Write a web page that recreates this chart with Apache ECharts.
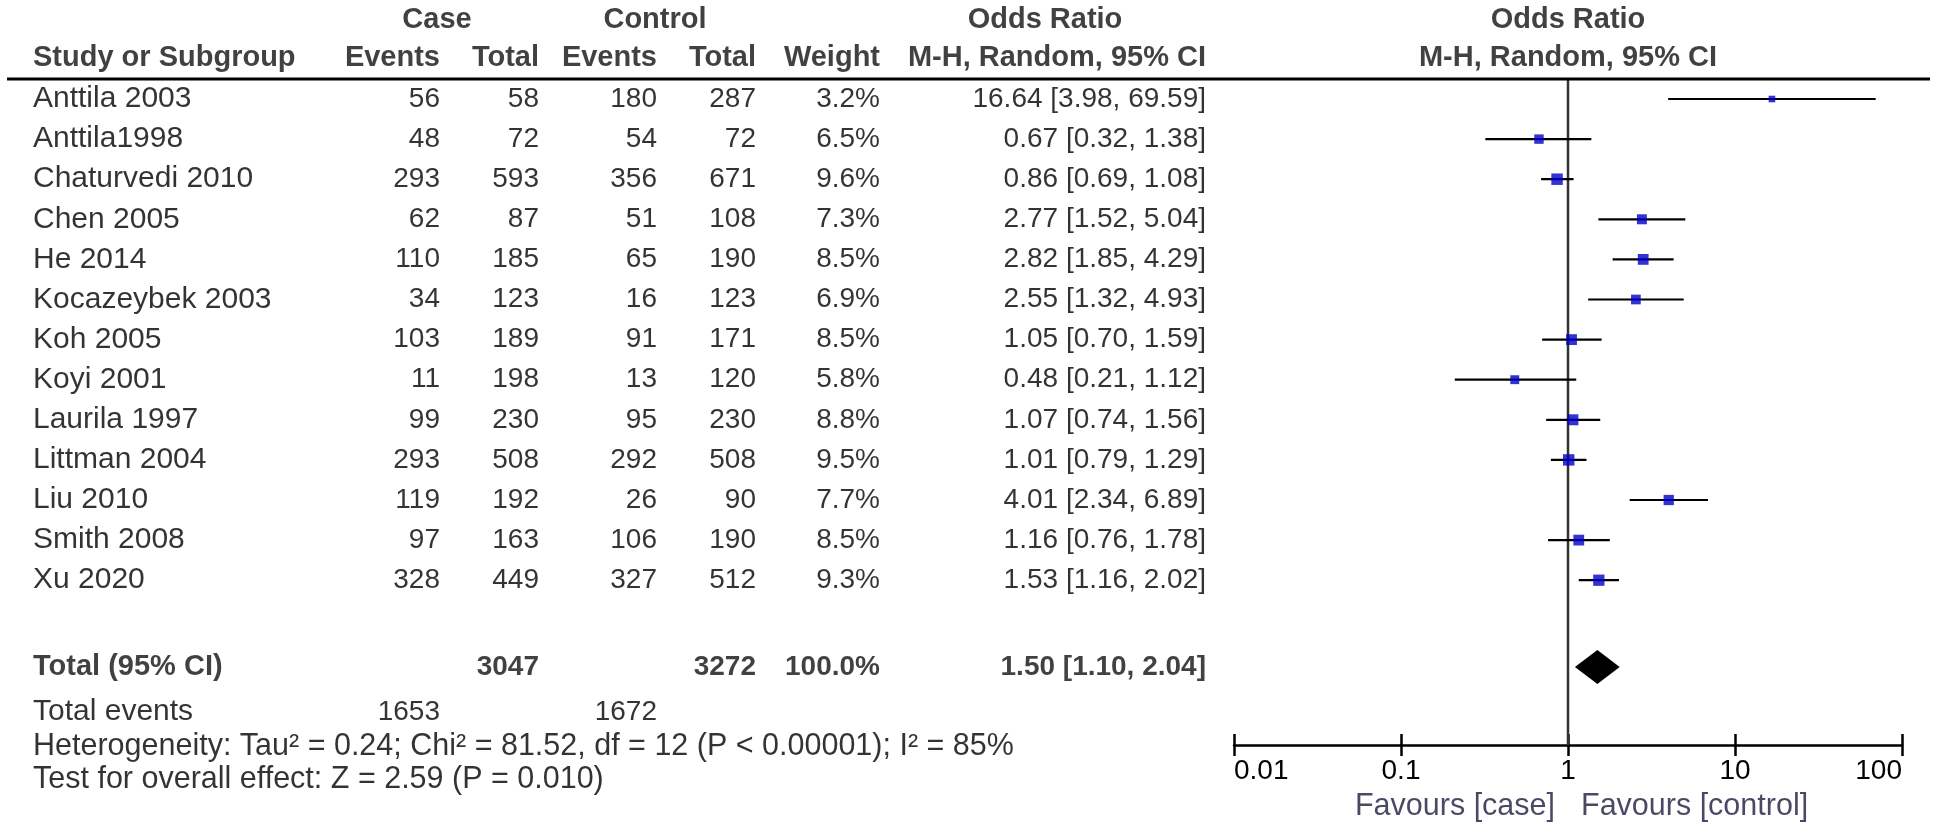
<!DOCTYPE html>
<html><head><meta charset="utf-8">
<script src="https://cdn.jsdelivr.net/npm/echarts@6/dist/echarts.min.js"></script>
<style>html,body{margin:0;padding:0;background:#fff}#c{width:1938px;height:829px}</style>
</head><body><div id="c"></div>
<script>
// ---------- data ----------
const studies = ['Anttila 2003','Anttila1998','Chaturvedi 2010','Chen 2005','He 2014','Kocazeybek 2003','Koh 2005','Koyi 2001','Laurila 1997','Littman 2004','Liu 2010','Smith 2008','Xu 2020'];
const caseEvents = [56,48,293,62,110,34,103,11,99,293,119,97,328];
const caseTotal  = [58,72,593,87,185,123,189,198,230,508,192,163,449];
const ctrlEvents = [180,54,356,51,65,16,91,13,95,292,26,106,327];
const ctrlTotal  = [287,72,671,108,190,123,171,120,230,508,90,190,512];
const weights    = [3.2,6.5,9.6,7.3,8.5,6.9,8.5,5.8,8.8,9.5,7.7,8.5,9.3];
const orEst  = [16.64,0.67,0.86,2.77,2.82,2.55,1.05,0.48,1.07,1.01,4.01,1.16,1.53];
const orLow  = [3.98,0.32,0.69,1.52,1.85,1.32,0.70,0.21,0.74,0.79,2.34,0.76,1.16];
const orHigh = [69.59,1.38,1.08,5.04,4.29,4.93,1.59,1.12,1.56,1.29,6.89,1.78,2.02];
const totalCase = 3047, totalCtrl = 3272, totalWeight = '100.0%';
const pooledEst = 1.50, pooledLow = 1.10, pooledHigh = 2.04;
const totalEventsCase = 1653, totalEventsCtrl = 1672;
const heterogeneityText = 'Heterogeneity: Tau² = 0.24; Chi² = 81.52, df = 12 (P < 0.00001); I² = 85%';
const overallText = 'Test for overall effect: Z = 2.59 (P = 0.010)';
const axisTicks = [0.01, 0.1, 1, 10, 100];
const tickLabels = ['0.01','0.1','1','10','100'];
const favourLeft = 'Favours [case]', favourRight = 'Favours [control]';

// ---------- layout ----------
const W = 1938, H = 829;
const ROW0 = 99, ROWH = 40.1;
const HEAD1_Y = 20, HEAD2_Y = 58, RULE_Y = 79, TOTAL_Y = 667, EVENTS_Y = 712, HET_Y = 747, TEST_Y = 780, FAV_Y = 807, AXIS_Y = 745;
const FL = 1234, FR = 1902;
const r = px => (px - ROW0) / ROWH;
const FONT = 'Liberation Sans, Arial, sans-serif';
const FS_TEXT = 30, FS_NOTE = 30.5, FS_NUM = 28, FS_HEAD = 29;
const COL = {name:33, ce:440, ct:539, ke:657, kt:756, w:880, or:1206};

const fmt = v => v.toFixed(2);
const texts = [];
function t(text, x, y, align, bold, size, color){
  texts.push({value:[x, y], label:{show:true, formatter: String(text), align: align, verticalAlign:'middle', position:'inside',
    fontWeight: bold ? 'bold' : 'normal', color: color || (bold ? '#111' : '#000'), fontSize: size, fontFamily: FONT}});
}
// headers
t('Case', 437, r(HEAD1_Y), 'center', true, FS_HEAD);
t('Control', 655, r(HEAD1_Y), 'center', true, FS_HEAD);
t('Odds Ratio', 1045, r(HEAD1_Y), 'center', true, FS_HEAD);
t('Odds Ratio', (FL+FR)/2, r(HEAD1_Y), 'center', true, FS_HEAD);
t('Study or Subgroup', COL.name, r(HEAD2_Y), 'left', true, FS_HEAD);
t('Events', COL.ce, r(HEAD2_Y), 'right', true, FS_HEAD);
t('Total', COL.ct, r(HEAD2_Y), 'right', true, FS_HEAD);
t('Events', COL.ke, r(HEAD2_Y), 'right', true, FS_HEAD);
t('Total', COL.kt, r(HEAD2_Y), 'right', true, FS_HEAD);
t('Weight', COL.w, r(HEAD2_Y), 'right', true, FS_HEAD);
t('M-H, Random, 95% CI', COL.or, r(HEAD2_Y), 'right', true, FS_HEAD);
t('M-H, Random, 95% CI', (FL+FR)/2, r(HEAD2_Y), 'center', true, FS_HEAD);
// study rows
studies.forEach((s, i) => {
  t(s, COL.name, i, 'left', false, FS_TEXT);
  t(caseEvents[i], COL.ce, i, 'right', false, FS_NUM);
  t(caseTotal[i], COL.ct, i, 'right', false, FS_NUM);
  t(ctrlEvents[i], COL.ke, i, 'right', false, FS_NUM);
  t(ctrlTotal[i], COL.kt, i, 'right', false, FS_NUM);
  t(weights[i].toFixed(1) + '%', COL.w, i, 'right', false, FS_NUM);
  t(fmt(orEst[i]) + ' [' + fmt(orLow[i]) + ', ' + fmt(orHigh[i]) + ']', COL.or, i, 'right', false, FS_NUM);
});
// totals
t('Total (95% CI)', COL.name, r(TOTAL_Y), 'left', true, FS_HEAD);
t(totalCase, COL.ct, r(TOTAL_Y), 'right', true, FS_NUM);
t(totalCtrl, COL.kt, r(TOTAL_Y), 'right', true, FS_NUM);
t(totalWeight, COL.w, r(TOTAL_Y), 'right', true, FS_NUM);
t(fmt(pooledEst) + ' [' + fmt(pooledLow) + ', ' + fmt(pooledHigh) + ']', COL.or, r(TOTAL_Y), 'right', true, FS_NUM);
t('Total events', COL.name, r(EVENTS_Y), 'left', false, FS_TEXT);
t(totalEventsCase, COL.ce, r(EVENTS_Y), 'right', false, FS_NUM);
t(totalEventsCtrl, COL.ke, r(EVENTS_Y), 'right', false, FS_NUM);
t(heterogeneityText, COL.name, r(HET_Y), 'left', false, FS_NOTE);
t(overallText, COL.name, r(TEST_Y), 'left', false, FS_NOTE);
t(favourLeft, 1555, r(FAV_Y), 'right', false, FS_NOTE, '#1c1c3c');
t(favourRight, 1581, r(FAV_Y), 'left', false, FS_NOTE, '#1c1c3c');

const pooledRow = r(TOTAL_Y);
const labelFor = v => { const k = axisTicks.findIndex(a => Math.abs(Math.log10(a) - Math.log10(v)) < 1e-6); return k >= 0 ? tickLabels[k] : ''; };

const chart = echarts.init(document.getElementById('c'), null, {renderer:'canvas'});
chart.setOption({
  animation: false,
  backgroundColor: '#fff',
  grid: [
    {left:0, top:0, width:W, height:H},
    {left:FL, top:0, width:FR-FL, height:AXIS_Y}
  ],
  xAxis: [
    {gridIndex:0, type:'value', min:0, max:W, show:false},
    {gridIndex:1, type:'log', logBase:10, min:axisTicks[0], max:axisTicks[axisTicks.length-1], interval:1, position:'bottom',
      axisLine:{show:true, onZero:false, lineStyle:{color:'#000', width:2.5}},
      axisTick:{show:true, inside:false, length:11, lineStyle:{color:'#000', width:2.5}},
      axisLabel:{show:true, margin:12, fontSize:28, fontFamily:FONT, color:'#000', formatter: labelFor, alignMinLabel:'left', alignMaxLabel:'right'},
      splitLine:{show:false}, minorTick:{show:false}},
    {gridIndex:1, type:'log', logBase:10, min:axisTicks[0], max:axisTicks[axisTicks.length-1], interval:1, position:'bottom',
      axisLine:{show:false, onZero:false},
      axisTick:{show:true, inside:true, length:11, lineStyle:{color:'#000', width:2.5}},
      axisLabel:{show:false}, splitLine:{show:false}}
  ],
  yAxis: [
    {gridIndex:0, type:'value', inverse:true, min:r(0), max:r(H), show:false},
    {gridIndex:1, type:'value', inverse:true, min:r(0), max:r(AXIS_Y), show:false}
  ],
  series: [
    {type:'line', xAxisIndex:0, yAxisIndex:0, data:[[7, r(RULE_Y)], [1930, r(RULE_Y)]], symbol:'none', silent:true,
      lineStyle:{color:'#000', width:3}},
    {type:'line', xAxisIndex:1, yAxisIndex:1, data:[[1, r(RULE_Y)], [1, r(AXIS_Y)]], symbol:'none', silent:true,
      lineStyle:{color:'#333', width:2.5}, z:2},
    {type:'custom', xAxisIndex:1, yAxisIndex:1, silent:true, z:3,
      data: studies.map((s, i) => [orLow[i], orHigh[i], i]),
      encode:{x:[0,1], y:2},
      renderItem(params, api){
        const p1 = api.coord([api.value(0), api.value(2)]);
        const p2 = api.coord([api.value(1), api.value(2)]);
        return {type:'line', shape:{x1:p1[0], y1:p1[1], x2:p2[0], y2:p2[1]}, style:{stroke:'#000', lineWidth:2.2}};
      }},
    {type:'scatter', xAxisIndex:1, yAxisIndex:1, silent:true, z:4,
      data: studies.map((s, i) => [orEst[i], i, weights[i]]),
      symbol:'rect', symbolSize: d => 3.7 * Math.sqrt(d[2]),
      itemStyle:{color:'#0000c8'}},
    {type:'custom', xAxisIndex:1, yAxisIndex:1, silent:true, z:4,
      data: [[pooledLow, pooledEst, pooledHigh, pooledRow]],
      encode:{x:[0,1,2], y:3},
      renderItem(params, api){
        const y = api.value(3);
        const a = api.coord([api.value(0), y]);
        const b = api.coord([api.value(1), y]);
        const c = api.coord([api.value(2), y]);
        const h = 17;
        return {type:'polygon', shape:{points:[[a[0], a[1]], [b[0], b[1]-h], [c[0], c[1]], [b[0], b[1]+h]]}, style:{fill:'#000'}};
      }},
    {type:'scatter', xAxisIndex:0, yAxisIndex:0, silent:true, symbolSize:0, clip:false, z:10,
      data: texts}
  ]
});
</script></body></html>
